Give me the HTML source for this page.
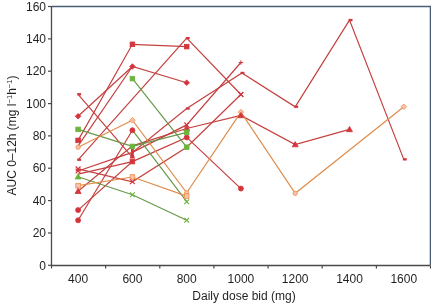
<!DOCTYPE html>
<html><head><meta charset="utf-8"><style>
html,body{margin:0;padding:0;background:#fff;width:431px;height:303px;overflow:hidden}
svg{display:block;will-change:transform}
text{font-family:"Liberation Sans",sans-serif}
</style></head><body>
<svg width="431" height="303" viewBox="0 0 431 303" font-family="Liberation Sans, sans-serif" font-size="12" fill="#231f20">
<path d="M78.1 140.4 L132.4 44.3 L186.7 46.6" stroke="#c4403f" stroke-width="1.2" fill="none"/>
<path d="M78.1 116.3 L132.4 66.5 L186.7 82.7" stroke="#c4403f" stroke-width="1.2" fill="none"/>
<path d="M78.1 145.9 L132.4 66.5" stroke="#c4403f" stroke-width="1.2" fill="none"/>
<path d="M78.1 159.8 L186.7 38.2 L240.9 94.5" stroke="#c4403f" stroke-width="1.2" fill="none"/>
<path d="M78.1 94.3 L132.4 157.3" stroke="#c4403f" stroke-width="1.2" fill="none"/>
<path d="M78.1 174.2 L132.4 161.6" stroke="#c4403f" stroke-width="1.2" fill="none"/>
<path d="M78.1 171.0 L132.4 152.4 L186.7 108.6 L241.9 73.0 L295.2 106.8 L349.5 20.1 L403.8 159.4" stroke="#c4403f" stroke-width="1.2" fill="none"/>
<path d="M132.4 152.4 L186.7 124.9 L240.9 62.5" stroke="#c4403f" stroke-width="1.2" fill="none"/>
<path d="M78.1 220.3 L132.4 130.2" stroke="#c4403f" stroke-width="1.2" fill="none"/>
<path d="M78.1 210.1 L132.4 161.6 L186.7 137.4 L240.9 188.6" stroke="#c4403f" stroke-width="1.2" fill="none"/>
<path d="M78.1 191.2 L132.4 145.9 L186.7 128.5 L240.9 115.4 L295.2 144.5 L349.5 129.4" stroke="#c4403f" stroke-width="1.2" fill="none"/>
<path d="M78.1 168.9 L132.4 181.8 L186.7 147.2 L240.9 94.5" stroke="#c4403f" stroke-width="1.2" fill="none"/>
<path d="M78.1 129.4 L132.4 146.4 L186.7 132.3" stroke="#68984a" stroke-width="1.2" fill="none"/>
<path d="M132.4 78.6 L186.7 147.2" stroke="#68984a" stroke-width="1.2" fill="none"/>
<path d="M78.1 176.7 L132.4 194.8 L186.7 220.2" stroke="#68984a" stroke-width="1.2" fill="none"/>
<path d="M132.4 130.2 L186.7 201.7" stroke="#68984a" stroke-width="1.2" fill="none"/>
<path d="M78.1 147.2 L132.4 120.2 L186.7 192.8 L240.9 112.1 L295.2 193.3 L403.8 106.8" stroke="#e08d4c" stroke-width="1.2" fill="none"/>
<path d="M78.1 185.7 L132.4 177.0 L186.7 196.1" stroke="#e08d4c" stroke-width="1.2" fill="none"/>
<circle cx="78.1" cy="147.2" r="2.2" fill="#f8c0ae" stroke="#ef9045" stroke-width="0.8"/>
<path d="M132.4 117.4L135.2 120.2L132.4 123.0L129.6 120.2Z" fill="#f8c0ae" stroke="#ef9045" stroke-width="0.8"/>
<circle cx="186.7" cy="192.8" r="2.2" fill="#f8c0ae" stroke="#ef9045" stroke-width="0.8"/>
<path d="M240.9 109.3L243.7 112.1L240.9 114.9L238.1 112.1Z" fill="#f8c0ae" stroke="#ef9045" stroke-width="0.8"/>
<circle cx="295.2" cy="193.3" r="2.2" fill="#f8c0ae" stroke="#ef9045" stroke-width="0.8"/>
<path d="M403.8 104.0L406.6 106.8L403.8 109.6L401.0 106.8Z" fill="#f8c0ae" stroke="#ef9045" stroke-width="0.8"/>
<rect x="75.8" y="183.4" width="4.6" height="4.6" fill="#f8c0ae" stroke="#ef9045" stroke-width="0.8"/>
<rect x="130.1" y="174.7" width="4.6" height="4.6" fill="#f8c0ae" stroke="#ef9045" stroke-width="0.8"/>
<rect x="184.4" y="193.8" width="4.6" height="4.6" fill="#f8c0ae" stroke="#ef9045" stroke-width="0.8"/>
<rect x="75.8" y="138.1" width="4.6" height="4.6" fill="#d4353d" stroke="#d4353d" stroke-width="0.8"/>
<rect x="130.1" y="42.0" width="4.6" height="4.6" fill="#d4353d" stroke="#d4353d" stroke-width="0.8"/>
<rect x="184.4" y="44.3" width="4.6" height="4.6" fill="#d4353d" stroke="#d4353d" stroke-width="0.8"/>
<path d="M78.1 113.5L80.9 116.3L78.1 119.1L75.3 116.3Z" fill="#d4353d" stroke="#d4353d" stroke-width="0.8"/>
<path d="M132.4 63.7L135.2 66.5L132.4 69.3L129.6 66.5Z" fill="#d4353d" stroke="#d4353d" stroke-width="0.8"/>
<path d="M186.7 79.9L189.5 82.7L186.7 85.5L183.9 82.7Z" fill="#d4353d" stroke="#d4353d" stroke-width="0.8"/>
<rect x="77.2" y="158.6" width="3.9" height="2.3" fill="#d4353d"/>
<rect x="185.8" y="37.0" width="3.9" height="2.3" fill="#d4353d"/>
<path d="M238.5 92.1L243.3 96.9M243.3 92.1L238.5 96.9" stroke="#d4353d" stroke-width="1.2" fill="none"/>
<rect x="77.2" y="93.1" width="3.9" height="2.3" fill="#d4353d"/>
<path d="M75.7 168.6L80.5 173.4M80.5 168.6L75.7 173.4" stroke="#d4353d" stroke-width="1.2" fill="none"/>
<path d="M131.0 148.6h2.8v6.2l1.2 3.6h-5.2l1.2-3.6z" fill="#d4353d"/>
<rect x="185.8" y="107.4" width="3.9" height="2.3" fill="#d4353d"/>
<rect x="240.5" y="71.8" width="3.9" height="2.3" fill="#d4353d"/>
<rect x="294.3" y="105.6" width="3.9" height="2.3" fill="#d4353d"/>
<rect x="348.6" y="18.9" width="3.9" height="2.3" fill="#d4353d"/>
<rect x="402.9" y="158.2" width="3.9" height="2.3" fill="#d4353d"/>
<path d="M184.3 122.5L189.1 127.3M189.1 122.5L184.3 127.3" stroke="#d4353d" stroke-width="1.2" fill="none"/>
<path d="M238.7 62.5H243.1M240.9 60.3V64.7" stroke="#d4353d" stroke-width="1" fill="none"/>
<circle cx="78.1" cy="220.3" r="2.5" fill="#d4353d" stroke="#d4353d" stroke-width="0.8"/>
<circle cx="132.4" cy="130.2" r="2.5" fill="#d4353d" stroke="#d4353d" stroke-width="0.8"/>
<circle cx="78.1" cy="210.1" r="2.5" fill="#d4353d" stroke="#d4353d" stroke-width="0.8"/>
<rect x="130.1" y="159.3" width="4.6" height="4.6" fill="#d4353d" stroke="#d4353d" stroke-width="0.8"/>
<circle cx="186.7" cy="137.4" r="2.5" fill="#d4353d" stroke="#d4353d" stroke-width="0.8"/>
<circle cx="240.9" cy="188.6" r="2.5" fill="#d4353d" stroke="#d4353d" stroke-width="0.8"/>
<path d="M78.1 188.2L81.1 193.5L75.1 193.5Z" fill="#d4353d" stroke="#d4353d" stroke-width="0.8"/>
<path d="M186.7 125.5L189.7 130.8L183.7 130.8Z" fill="#d4353d" stroke="#d4353d" stroke-width="0.8"/>
<path d="M240.9 112.4L243.9 117.7L237.9 117.7Z" fill="#d4353d" stroke="#d4353d" stroke-width="0.8"/>
<path d="M295.2 141.5L298.2 146.8L292.2 146.8Z" fill="#d4353d" stroke="#d4353d" stroke-width="0.8"/>
<path d="M349.5 126.4L352.5 131.7L346.5 131.7Z" fill="#d4353d" stroke="#d4353d" stroke-width="0.8"/>
<path d="M75.7 166.5L80.5 171.3M80.5 166.5L75.7 171.3" stroke="#d4353d" stroke-width="1.2" fill="none"/>
<path d="M130.0 179.4L134.8 184.2M134.8 179.4L130.0 184.2" stroke="#d4353d" stroke-width="1.2" fill="none"/>
<path d="M238.5 92.1L243.3 96.9M243.3 92.1L238.5 96.9" stroke="#d4353d" stroke-width="1.2" fill="none"/>
<rect x="75.8" y="127.1" width="4.6" height="4.6" fill="#6cb43c" stroke="#6cb43c" stroke-width="0.8"/>
<rect x="130.1" y="144.1" width="4.6" height="4.6" fill="#6cb43c" stroke="#6cb43c" stroke-width="0.8"/>
<rect x="184.4" y="130.0" width="4.6" height="4.6" fill="#6cb43c" stroke="#6cb43c" stroke-width="0.8"/>
<rect x="130.1" y="76.3" width="4.6" height="4.6" fill="#6cb43c" stroke="#6cb43c" stroke-width="0.8"/>
<rect x="184.4" y="144.9" width="4.6" height="4.6" fill="#6cb43c" stroke="#6cb43c" stroke-width="0.8"/>
<path d="M78.1 173.7L81.1 179.0L75.1 179.0Z" fill="#6cb43c" stroke="#6cb43c" stroke-width="0.8"/>
<path d="M130.0 192.4L134.8 197.2M134.8 192.4L130.0 197.2" stroke="#6cb43c" stroke-width="1.2" fill="none"/>
<path d="M184.3 217.8L189.1 222.6M189.1 217.8L184.3 222.6" stroke="#6cb43c" stroke-width="1.2" fill="none"/>
<path d="M184.3 199.3L189.1 204.1M189.1 199.3L184.3 204.1" stroke="#6cb43c" stroke-width="1.2" fill="none"/>
<path d="M51.5 6.5H430.4V265.5" stroke="#4b5e78" stroke-width="1.35" fill="none"/>
<path d="M51.5 6V265.5H430" stroke="#4a4a4a" stroke-width="1.3" fill="none"/>
<path d="M48 265.3H51.5" stroke="#4a4a4a" stroke-width="1.2"/>
<text x="46" y="269.5" text-anchor="end">0</text>
<path d="M48 233.0H51.5" stroke="#4a4a4a" stroke-width="1.2"/>
<text x="46" y="237.2" text-anchor="end">20</text>
<path d="M48 200.6H51.5" stroke="#4a4a4a" stroke-width="1.2"/>
<text x="46" y="204.8" text-anchor="end">40</text>
<path d="M48 168.2H51.5" stroke="#4a4a4a" stroke-width="1.2"/>
<text x="46" y="172.4" text-anchor="end">60</text>
<path d="M48 135.9H51.5" stroke="#4a4a4a" stroke-width="1.2"/>
<text x="46" y="140.1" text-anchor="end">80</text>
<path d="M48 103.6H51.5" stroke="#4a4a4a" stroke-width="1.2"/>
<text x="46" y="107.8" text-anchor="end">100</text>
<path d="M48 71.2H51.5" stroke="#4a4a4a" stroke-width="1.2"/>
<text x="46" y="75.4" text-anchor="end">120</text>
<path d="M48 38.9H51.5" stroke="#4a4a4a" stroke-width="1.2"/>
<text x="46" y="43.1" text-anchor="end">140</text>
<path d="M48 6.5H51.5" stroke="#4a4a4a" stroke-width="1.2"/>
<text x="46" y="10.7" text-anchor="end">160</text>
<path d="M51.5 265.5V268.5" stroke="#4a4a4a" stroke-width="1.2"/>
<path d="M105.6 265.5V268.5" stroke="#4a4a4a" stroke-width="1.2"/>
<path d="M159.8 265.5V268.5" stroke="#4a4a4a" stroke-width="1.2"/>
<path d="M213.9 265.5V268.5" stroke="#4a4a4a" stroke-width="1.2"/>
<path d="M268.1 265.5V268.5" stroke="#4a4a4a" stroke-width="1.2"/>
<path d="M322.2 265.5V268.5" stroke="#4a4a4a" stroke-width="1.2"/>
<path d="M376.4 265.5V268.5" stroke="#4a4a4a" stroke-width="1.2"/>
<path d="M430.5 265.5V268.5" stroke="#4a4a4a" stroke-width="1.2"/>
<text x="78.1" y="283" text-anchor="middle">400</text>
<text x="132.4" y="283" text-anchor="middle">600</text>
<text x="186.7" y="283" text-anchor="middle">800</text>
<text x="240.9" y="283" text-anchor="middle">1000</text>
<text x="295.2" y="283" text-anchor="middle">1200</text>
<text x="349.5" y="283" text-anchor="middle">1400</text>
<text x="403.8" y="283" text-anchor="middle">1600</text>
<text x="244" y="299.5" text-anchor="middle">Daily dose bid (mg)</text>
<text transform="translate(16.3 135.5) rotate(-90)" text-anchor="middle">AUC 0–12h (mg l<tspan dy="-4.6" font-size="7.6">−1</tspan><tspan dy="4.6">h</tspan><tspan dy="-4.6" font-size="7.6">−1</tspan><tspan dy="4.6">)</tspan></text>
</svg>
</body></html>
